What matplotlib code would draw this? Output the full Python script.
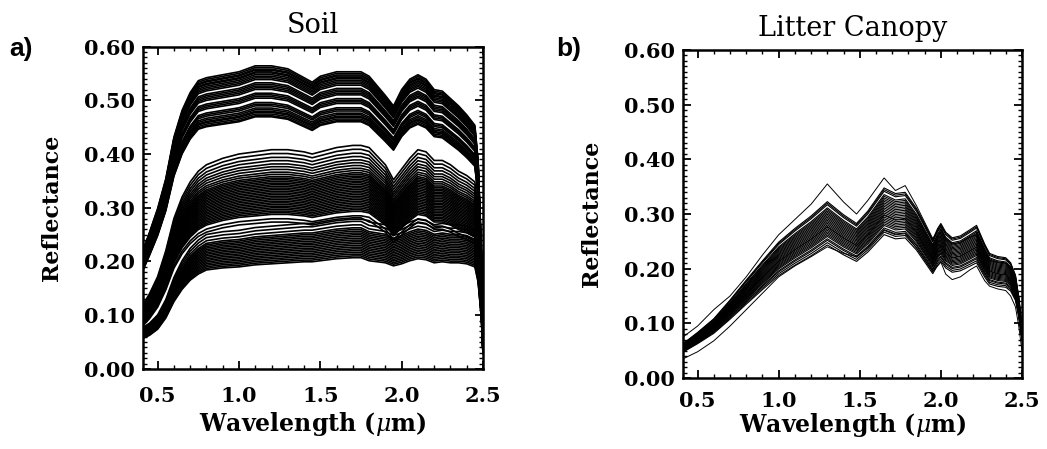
import numpy as np
import matplotlib
matplotlib.use("Agg")
import matplotlib.pyplot as plt
from matplotlib.ticker import MultipleLocator, FormatStrFormatter

# ---------------- data ----------------
soil_wl = [0.41, 0.45, 0.50, 0.55, 0.60, 0.65, 0.70, 0.75, 0.80, 0.90, 1.00, 1.10,
           1.20, 1.30, 1.40, 1.45, 1.50, 1.60, 1.70, 1.75, 1.80, 1.90, 1.95, 2.00,
           2.05, 2.10, 2.15, 2.20, 2.25, 2.30, 2.35, 2.40, 2.45, 2.47, 2.49, 2.50]

# normalised spectral shapes (value / value at 1.0 um)
soil_shape_bright = [0.40, 0.46, 0.54, 0.64, 0.78, 0.87, 0.93, 0.97, 0.98, 0.99, 1.00, 1.02,
                     1.02, 1.01, 0.98, 0.965, 0.985, 1.00, 1.00, 1.00, 0.985, 0.92, 0.885, 0.94,
                     0.975, 0.99, 0.975, 0.94, 0.935, 0.91, 0.885, 0.855, 0.82, 0.70, 0.40, 0.15]
soil_shape_medium = [0.30, 0.35, 0.43, 0.55, 0.70, 0.80, 0.87, 0.92, 0.95, 0.98, 1.00, 1.01,
                     1.02, 1.02, 1.01, 1.00, 1.01, 1.03, 1.04, 1.04, 1.03, 0.95, 0.88, 0.93,
                     0.98, 1.02, 1.01, 0.97, 0.97, 0.95, 0.92, 0.90, 0.87, 0.75, 0.45, 0.15]
soil_shape_dark = [0.30, 0.33, 0.39, 0.50, 0.66, 0.78, 0.87, 0.93, 0.97, 0.99, 1.00, 1.02,
                   1.03, 1.04, 1.05, 1.05, 1.06, 1.08, 1.09, 1.09, 1.06, 1.04, 1.01, 1.03,
                   1.06, 1.08, 1.07, 1.04, 1.05, 1.04, 1.04, 1.03, 1.00, 0.85, 0.50, 0.15]

# reflectance at 1.0 um for each soil spectrum
soil_levels_bright = [0.553, 0.550, 0.547, 0.545, 0.542, 0.540, 0.537, 0.534, 0.531, 0.528,
                      0.522, 0.519, 0.516, 0.513, 0.510, 0.503, 0.500, 0.497, 0.494, 0.486,
                      0.483, 0.480, 0.476, 0.473, 0.470, 0.468, 0.465, 0.462, 0.460]
soil_levels_medium = [0.400, 0.393, 0.386, 0.380, 0.374, 0.369, 0.364, 0.359, 0.355, 0.351,
                      0.348, 0.345, 0.342, 0.339, 0.336, 0.333, 0.330, 0.327, 0.324, 0.321,
                      0.318, 0.315, 0.312, 0.309, 0.306, 0.303, 0.300, 0.297, 0.294, 0.291,
                      0.288, 0.285, 0.282, 0.274, 0.268]
soil_levels_dark = [0.258, 0.252, 0.246, 0.241, 0.238, 0.235, 0.232, 0.229, 0.226, 0.223,
                    0.220, 0.217, 0.214, 0.211, 0.208, 0.205, 0.202, 0.199, 0.196, 0.193,
                    0.190]

litter_wl = [0.41, 0.50, 0.60, 0.70, 0.80, 0.90, 1.00, 1.10, 1.20, 1.30, 1.40, 1.48,
             1.55, 1.65, 1.72, 1.78, 1.85, 1.95, 1.98, 2.00, 2.03, 2.07, 2.12, 2.18,
             2.22, 2.27, 2.30, 2.35, 2.40, 2.43, 2.46, 2.48, 2.50]
litter_base = [0.055, 0.073, 0.095, 0.125, 0.157, 0.188, 0.218, 0.240, 0.260, 0.283, 0.262, 0.248,
               0.268, 0.305, 0.296, 0.298, 0.272, 0.222, 0.240, 0.248, 0.234, 0.225, 0.228, 0.238,
               0.245, 0.215, 0.200, 0.195, 0.193, 0.185, 0.165, 0.130, 0.080]
litter_scales = [1.14, 1.13, 1.12, 1.10, 1.09, 1.08, 1.07, 1.06, 1.05, 1.04, 1.03, 1.02, 1.01,
                 1.00, 0.99, 0.98, 0.975, 0.965, 0.955, 0.945, 0.935, 0.925, 0.915, 0.90,
                 0.89, 0.875, 0.86]
litter_high = [0.075, 0.095, 0.125, 0.150, 0.185, 0.225, 0.262, 0.290, 0.318, 0.355, 0.322, 0.300,
               0.325, 0.366, 0.343, 0.352, 0.315, 0.255, 0.268, 0.276, 0.255, 0.245, 0.248, 0.258,
               0.262, 0.232, 0.215, 0.212, 0.210, 0.200, 0.180, 0.150, 0.100]
litter_low = [0.035, 0.048, 0.068, 0.095, 0.125, 0.155, 0.185, 0.205, 0.222, 0.240, 0.228, 0.222,
              0.238, 0.270, 0.262, 0.264, 0.238, 0.195, 0.205, 0.212, 0.190, 0.180, 0.185, 0.198,
              0.205, 0.178, 0.168, 0.163, 0.160, 0.150, 0.130, 0.095, 0.050]

x_ticks = [0.5, 1.0, 1.5, 2.0, 2.5]
y_ticks = [0.0, 0.1, 0.2, 0.3, 0.4, 0.5, 0.6]

# ---------------- figure ----------------
plt.rcParams['mathtext.fontset'] = 'dejavuserif'
fig = plt.figure(figsize=(10.47, 4.49), dpi=100)
ax1 = fig.add_axes([0.1366, 0.1782, 0.3247, 0.7182])
ax2 = fig.add_axes([0.6523, 0.1581, 0.3238, 0.7305])

lw = 1.2
for shape, levels in ((soil_shape_bright, soil_levels_bright),
                      (soil_shape_medium, soil_levels_medium),
                      (soil_shape_dark, soil_levels_dark)):
    s = np.array(shape)
    for lv in levels:
        ax1.plot(soil_wl, s * lv, color='black', lw=lw)

lb = np.array(litter_base)
for sc in litter_scales:
    ax2.plot(litter_wl, lb * sc, color='black', lw=0.8)
ax2.plot(litter_wl, litter_high, color='black', lw=0.7)
ax2.plot(litter_wl, litter_low, color='black', lw=0.7)

for ax, title, xpad, xlpad in ((ax1, 'Soil', 12, 3), (ax2, 'Litter Canopy', 9, 0)):
    ax.set_xlim(0.41, 2.5)
    ax.set_ylim(0.0, 0.6)
    ax.set_xticks(x_ticks)
    ax.set_yticks(y_ticks)
    ax.xaxis.set_minor_locator(MultipleLocator(0.1))
    ax.yaxis.set_minor_locator(MultipleLocator(0.01))
    ax.xaxis.set_major_formatter(FormatStrFormatter('%.1f'))
    ax.yaxis.set_major_formatter(FormatStrFormatter('%.2f'))
    ax.tick_params(which='both', direction='in', top=True, right=True, color='black')
    ax.tick_params(which='major', length=6, width=1.3)
    ax.tick_params(which='minor', length=3, width=1.0)
    ax.tick_params(axis='x', which='major', pad=xpad)
    ax.tick_params(axis='y', which='major', pad=6)
    for lab in ax.get_xticklabels() + ax.get_yticklabels():
        lab.set_fontfamily('DejaVu Serif')
        lab.set_fontweight('bold')
        lab.set_fontsize(15)
    for sp in ax.spines.values():
        sp.set_linewidth(1.8)
    ax.set_xlabel(r'Wavelength ($\mu$m)', fontfamily='DejaVu Serif', fontweight='bold',
                  fontsize=17, labelpad=xlpad)
    ax.set_ylabel('Reflectance', fontfamily='DejaVu Serif', fontweight='bold',
                  fontsize=16, labelpad=15)
    ax.set_title(title, fontfamily='DejaVu Serif', fontsize=19.5, pad=10)

fig.text(0.009, 0.890, 'a)', fontfamily='Liberation Sans', fontweight='bold', fontsize=19, va='center')
fig.text(0.531, 0.890, 'b)', fontfamily='Liberation Sans', fontweight='bold', fontsize=19, va='center')

fig.savefig('out.png', dpi=100)
